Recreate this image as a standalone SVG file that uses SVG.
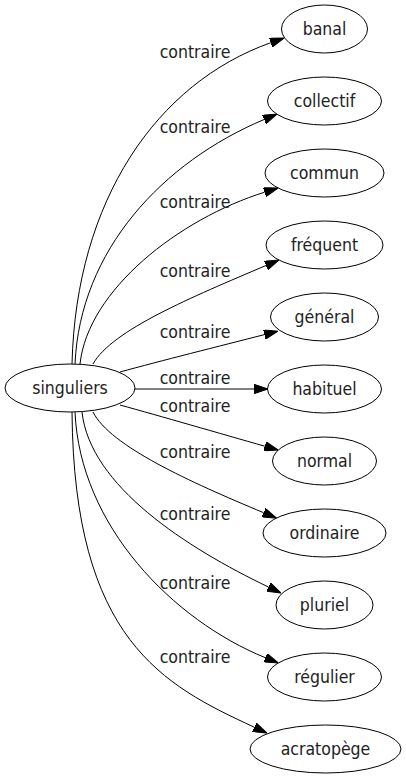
<svg xmlns="http://www.w3.org/2000/svg" width="406" height="779" viewBox="0 0 406 779">
<style>
.n ellipse{fill:none;stroke:#000;stroke-width:1}
.n text{font-family:"DejaVu Sans Condensed","DejaVu Sans",sans-serif;font-stretch:condensed;font-size:17.5px;text-anchor:middle;fill:#222}
.e path{fill:none;stroke:#000;stroke-width:1;marker-end:url(#ah)}
.l text{font-family:"DejaVu Sans Condensed","DejaVu Sans",sans-serif;font-stretch:condensed;font-size:17.5px;text-anchor:middle;fill:#222}
</style>
<defs>
<marker id="ah" viewBox="0 0 14 9.4" refX="0" refY="4.7" markerWidth="14" markerHeight="9.4" markerUnits="userSpaceOnUse" orient="auto">
<path d="M0,0 L14,4.7 L0,9.4 z" fill="#000" stroke="#000" stroke-width="1"/>
</marker>
</defs>
<rect width="406" height="779" fill="#fff"/>
<g id="edges" class="e">
<path d="M72,364 C76,200 157,83 270.8,42.7"/>
<path d="M75,364 C80,250 163,162 264.1,119.5"/>
<path d="M80,364 C88,290 179,219 264.6,192.2"/>
<path d="M93,364 C112,330 192,297 266,265.5"/>
<path d="M120,372 C160,361 220,346 264.5,334.6"/>
<path d="M135,389 L254,389"/>
<path d="M120,405 C160,416 220,433.5 264.8,446.2"/>
<path d="M93,412 C110,446 190,482 263.6,512.7"/>
<path d="M82,412 C90,486 187,548 268.4,587"/>
<path d="M75,412 C80,526 173,620 265.3,657.7"/>
<path d="M72,412 C74,640 163,685 254.3,727.2"/>
</g>
<g id="edge-labels" class="l">
<text x="195" y="58">contraire</text>
<text x="195" y="133">contraire</text>
<text x="195" y="207.7">contraire</text>
<text x="195" y="276.7">contraire</text>
<text x="195" y="338.3">contraire</text>
<text x="195" y="384">contraire</text>
<text x="195" y="411.7">contraire</text>
<text x="195" y="458.3">contraire</text>
<text x="195" y="520">contraire</text>
<text x="195" y="589">contraire</text>
<text x="195" y="663.3">contraire</text>
</g>
<g id="singuliers" class="n"><ellipse cx="70" cy="388" rx="65" ry="24"/><text x="70" y="394">singuliers</text></g>
<g id="banal" class="n"><ellipse cx="324.5" cy="29" rx="43" ry="24"/><text x="324.5" y="35">banal</text></g>
<g id="collectif" class="n"><ellipse cx="324.5" cy="101" rx="57" ry="24"/><text x="324.5" y="107">collectif</text></g>
<g id="commun" class="n"><ellipse cx="324.5" cy="173" rx="59.5" ry="24"/><text x="324.5" y="179">commun</text></g>
<g id="frequent" class="n"><ellipse cx="324.5" cy="245" rx="58.5" ry="24"/><text x="324.5" y="251">fréquent</text></g>
<g id="general" class="n"><ellipse cx="324.5" cy="317" rx="54" ry="24"/><text x="324.5" y="323">général</text></g>
<g id="habituel" class="n"><ellipse cx="324.5" cy="389" rx="57" ry="24"/><text x="324.5" y="395">habituel</text></g>
<g id="normal" class="n"><ellipse cx="324.5" cy="461" rx="52" ry="24"/><text x="324.5" y="467">normal</text></g>
<g id="ordinaire" class="n"><ellipse cx="324.5" cy="533" rx="61.5" ry="24"/><text x="324.5" y="539">ordinaire</text></g>
<g id="pluriel" class="n"><ellipse cx="324.5" cy="605" rx="48.5" ry="24"/><text x="324.5" y="611">pluriel</text></g>
<g id="regulier" class="n"><ellipse cx="324.5" cy="677" rx="57" ry="24"/><text x="324.5" y="683">régulier</text></g>
<g id="acratopege" class="n"><ellipse cx="325.5" cy="749" rx="75.5" ry="24"/><text x="325.5" y="755">acratopège</text></g>
</svg>
